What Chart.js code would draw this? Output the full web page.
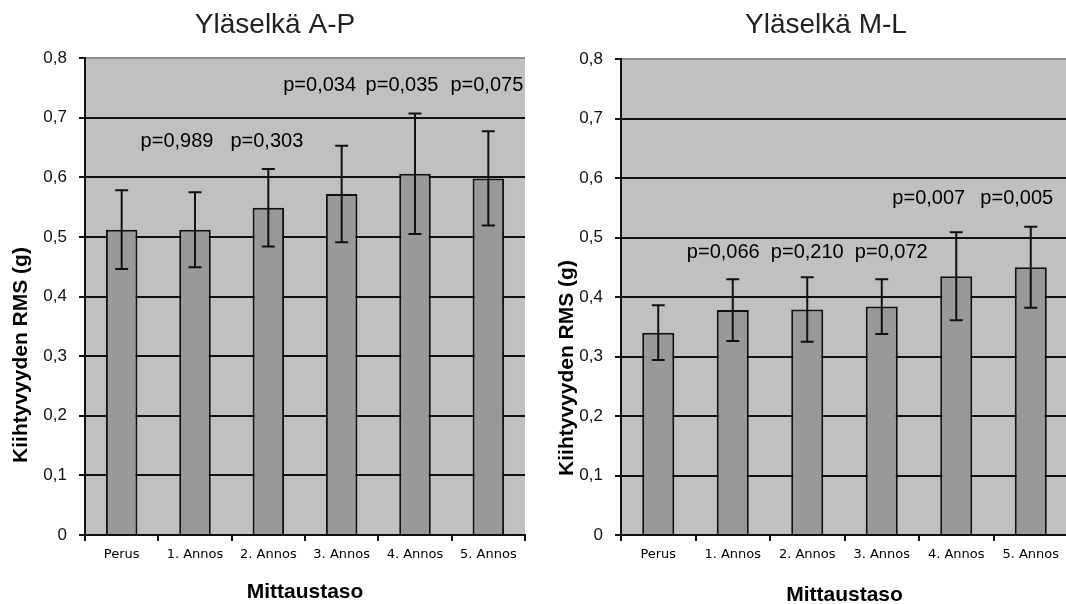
<!DOCTYPE html>
<html>
<head>
<meta charset="utf-8">
<script src="https://cdn.jsdelivr.net/npm/chart.js@4.4.1/dist/chart.umd.min.js"></script>
<style>
  html, body { margin: 0; padding: 0; background: #ffffff; width: 1066px; height: 604px; overflow: hidden; }
  .panel { position: absolute; top: 0; }
  #apBox { left: 0; }
  #mlBox { left: 550px; }
</style>
</head>
<body>
<div class="panel" id="apBox"><canvas id="apChart" width="550" height="604"></canvas></div>
<div class="panel" id="mlBox"><canvas id="mlChart" width="552" height="604"></canvas></div>
<script>
// Measurement levels (x categories)
const categories = ['Perus', '1. Annos', '2. Annos', '3. Annos', '4. Annos', '5. Annos'];
// Y tick labels, Finnish decimal comma
const yTickLabels = ['0', '0,1', '0,2', '0,3', '0,4', '0,5', '0,6', '0,7', '0,8'];

// Upper back, anterior-posterior: RMS acceleration (g), mean and SD
const apMeans  = [0.512, 0.512, 0.549, 0.572, 0.606, 0.598];
const apErrors = [0.066, 0.063, 0.065, 0.081, 0.101, 0.079];
const apPValues = [null, 'p=0,989', 'p=0,303', 'p=0,034', 'p=0,035', 'p=0,075'];

// Upper back, medio-lateral
const mlMeans  = [0.340, 0.378, 0.379, 0.384, 0.435, 0.450];
const mlErrors = [0.046, 0.052, 0.054, 0.046, 0.074, 0.068];
const mlPValues = [null, 'p=0,066', 'p=0,210', 'p=0,072', 'p=0,007', 'p=0,005'];

const titleAP = 'Yläselkä A-P';
const titleML = 'Yläselkä M-L';
const yTitle = 'Kiihtyvyyden RMS (g)';
const xTitle = 'Mittaustaso';

const INK = '#111111';

function makePanel(canvasId, title, means, errors, pValues, look) {
  const panelPlugin = {
    id: 'panelDecor',
    beforeDraw(chart) {
      const { ctx, chartArea: a } = chart;
      ctx.save();
      ctx.fillStyle = '#c0c0c0';
      ctx.fillRect(a.left, a.top, a.right - a.left, a.bottom - a.top);
      ctx.restore();
    },
    afterDatasetsDraw(chart) {
      const { ctx } = chart;
      const xs = chart.scales.x, ys = chart.scales.y;
      ctx.save();
      // error bars (mean ± SD)
      ctx.strokeStyle = INK;
      ctx.lineWidth = 2;
      means.forEach((m, i) => {
        const x = xs.getPixelForValue(i);
        const yHi = ys.getPixelForValue(m + errors[i]);
        const yLo = ys.getPixelForValue(m - errors[i]);
        ctx.beginPath();
        ctx.moveTo(x, yHi); ctx.lineTo(x, yLo);
        ctx.moveTo(x - 6.5, yHi); ctx.lineTo(x + 6.5, yHi);
        ctx.moveTo(x - 6.5, yLo); ctx.lineTo(x + 6.5, yLo);
        ctx.stroke();
      });
      // p-value annotations
      ctx.fillStyle = '#000000';
      ctx.font = '20px "Liberation Sans", Arial, sans-serif';
      ctx.textAlign = 'center';
      ctx.textBaseline = 'alphabetic';
      pValues.forEach((p, i) => {
        if (!p) return;
        const place = look.pPlace[i];
        ctx.fillText(p, xs.getPixelForValue(i) + place.dx, ys.getPixelForValue(place.level));
      });
      ctx.restore();
    },
    afterDraw(chart) {
      const { ctx, chartArea: a, width } = chart;
      ctx.save();
      ctx.textAlign = 'center';
      ctx.textBaseline = 'alphabetic';
      ctx.fillStyle = '#222222';
      ctx.font = '28px "Liberation Sans", Arial, sans-serif';
      ctx.fillText(title, width / 2, 33);
      ctx.fillStyle = '#000000';
      ctx.font = 'bold 21px "Liberation Sans", Arial, sans-serif';
      ctx.fillText(xTitle, (a.left + a.right) / 2, look.xTitleBase);
      ctx.translate(look.yTitleBase, look.yTitleMid);
      ctx.rotate(-Math.PI / 2);
      ctx.fillText(yTitle, 0, 0);
      ctx.restore();
    }
  };

  return new Chart(document.getElementById(canvasId), {
    type: 'bar',
    data: {
      labels: categories,
      datasets: [{
        data: means,
        backgroundColor: '#999999',
        borderColor: INK,
        borderWidth: 2,
        borderSkipped: 'start',
        barPercentage: 0.43,
        categoryPercentage: 1.0
      }]
    },
    options: {
      responsive: false,
      animation: false,
      devicePixelRatio: 1,
      layout: { padding: { top: look.top, left: 0, right: look.right, bottom: 29 } },
      plugins: { legend: { display: false }, tooltip: { enabled: false }, title: { display: false } },
      scales: {
        x: {
          grid: { offset: true, drawOnChartArea: false, drawTicks: true, tickLength: 6,
                  color: INK, tickColor: INK, lineWidth: 2, tickWidth: 2 },
          border: { color: INK, width: 2 },
          ticks: { font: { family: 'DejaVu Sans', size: 13 }, color: '#000000', padding: 6,
                   maxRotation: 0, autoSkip: false },
          afterFit: s => { s.height = 40; }
        },
        y: {
          min: 0, max: 0.8,
          ticks: { stepSize: 0.1, callback: (v, i) => yTickLabels[i],
                   font: { family: 'Liberation Sans', size: 17 }, color: INK, padding: 12 },
          grid: { color: c => (c.tick && c.tick.value > 0.79) ? '#8c8c8c' : INK,
                  lineWidth: 2, drawTicks: true, tickLength: 6, tickColor: INK, tickWidth: 2 },
          border: { color: INK, width: 2 },
          afterFit: s => { s.width = look.yAxisWidth; }
        }
      }
    },
    plugins: [panelPlugin]
  });
}

makePanel('apChart', titleAP, apMeans, apErrors, apPValues, {
  top: 58, right: 25, yAxisWidth: 85,
  xTitleBase: 598, yTitleBase: 27, yTitleMid: 355,
  pPlace: [null,
    { dx: -18, level: 0.651 }, { dx: -1.5, level: 0.651 },
    { dx: -22, level: 0.745 }, { dx: -13, level: 0.745 }, { dx: -1.5, level: 0.745 }]
});

makePanel('mlChart', titleML, mlMeans, mlErrors, mlPValues, {
  top: 59, right: 34, yAxisWidth: 71,
  xTitleBase: 601, yTitleBase: 23, yTitleMid: 368,
  pPlace: [null,
    { dx: -9.5, level: 0.4655 }, { dx: 0, level: 0.4655 }, { dx: 9.5, level: 0.4655 },
    { dx: -27.5, level: 0.557 }, { dx: -14, level: 0.557 }]
});
</script>
</body>
</html>
